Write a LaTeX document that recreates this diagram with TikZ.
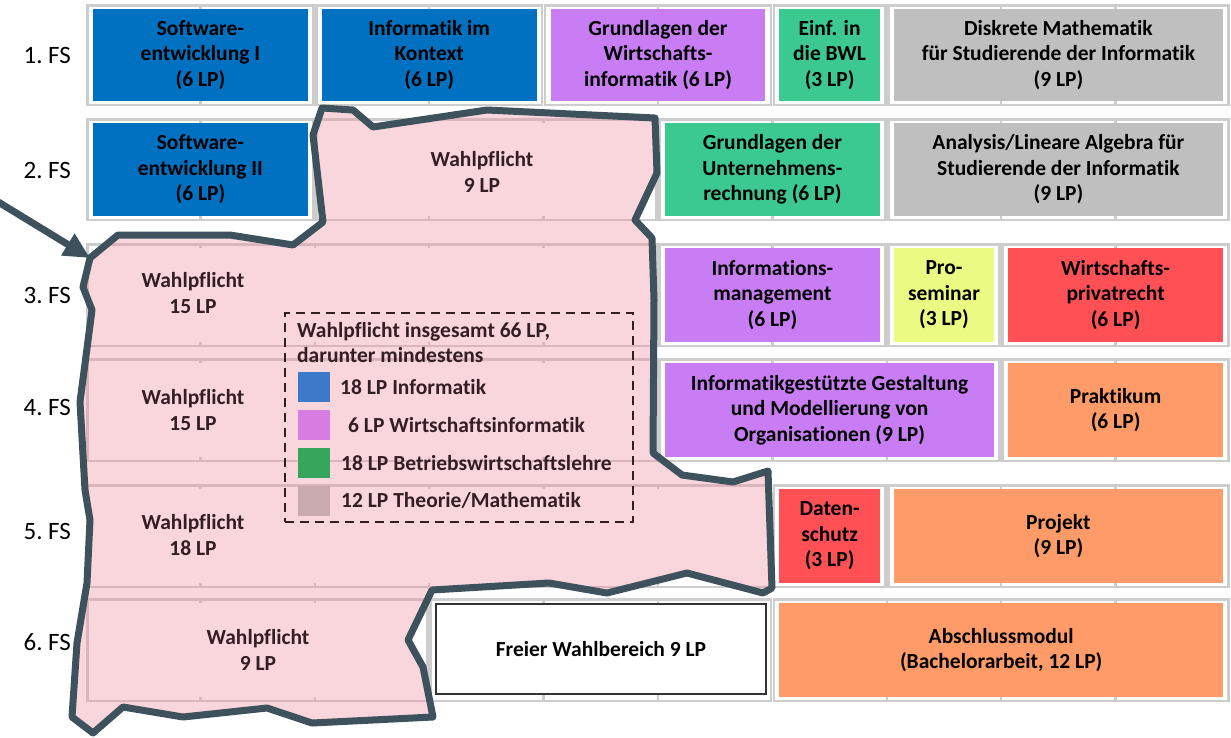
\documentclass[tikz,border=0pt]{standalone}
\usepackage{fontspec}
\setmainfont{Carlito}[Ligatures=NoCommon]
\usetikzlibrary{arrows.meta}
\definecolor{blueM}{RGB}{0,112,192}
\definecolor{purpleM}{RGB}{201,125,245}
\definecolor{greenM}{RGB}{60,200,145}
\definecolor{grayM}{RGB}{191,191,191}
\definecolor{yellowM}{RGB}{234,250,130}
\definecolor{redM}{RGB}{255,80,85}
\definecolor{orangeM}{RGB}{255,155,105}
\definecolor{pinkF}{RGB}{248,214,220}
\definecolor{borderC}{RGB}{61,82,92}
\definecolor{gridC}{RGB}{205,205,205}
\definecolor{gridP}{RGB}{218,182,188}
\definecolor{textP}{RGB}{52,30,36}
\definecolor{lblue}{RGB}{62,120,200}
\definecolor{lpurple}{RGB}{215,125,225}
\definecolor{lgreen}{RGB}{52,165,90}
\definecolor{lgray}{RGB}{200,170,175}
\newcommand\modfont{\bfseries\fontsize{21.5}{25.5}\selectfont}
\tikzset{
  modbox/.style={draw=none, inner sep=0pt, align=center, font=\modfont, text=black},
  gridline/.style={draw=gridC, line width=2.5pt},
  wpcover/.style={fill=pinkF, draw=none},
  wpborder/.style={draw=borderC, line width=7pt, line join=round},
  wplabel/.style={align=center, font=\modfont, text=textP, inner sep=0pt},
  legendbox/.style={draw=textP, line width=2.3pt, dash pattern=on 9pt off 6pt, minimum width=348pt, minimum height=209pt, inner sep=0pt},
  legtext/.style={font=\modfont, text=textP, inner sep=0pt, align=left},
  legsq/.style={minimum width=32pt, minimum height=30pt, inner sep=0pt, draw=none},
  fslabel/.style={font=\fontsize{25}{30}\selectfont, text=black, inner sep=0pt},
  freebox/.style={draw=black!80, line width=1.2pt, fill=white, inner sep=0pt, align=center, font=\modfont}
}
% #1 name, #2 x1, #3 x2, #4 top, #5 bottom, #6 colour, #7 text
\newcommand\modbox[7]{\node[modbox, fill=#6, minimum width={#3-#2-14}, minimum height={#5-#4-10}] (#1) at ({(#2+#3)/2},{(#4+#5)/2}) {#7};}
% grid span: x1 x2 top bottom
\newcommand\gspan[4]{\draw[gridline] (#1+1.5,#3+1.25) rectangle (#2-1.5,#4-1.25);}
\newcommand\gdiv[3]{\foreach \d in {#1} {\draw[gridline] (\d,#2) -- (\d,#3);}}
\newcommand\wpcell[4]{\fill[wpcover] (#1+7,#3+5) rectangle (#2-7,#4-5);}
\newcommand\fs[1]{#1.\hspace{0.22em}FS}
\newcommand\allgrid{%
  % row 1
  \gspan{86}{314.8}{4}{106}\gdiv{200.4}{4}{106}
  \gspan{314.8}{543.6}{4}{106}\gdiv{429.2}{4}{106}
  \gspan{543.6}{772.4}{4}{106}\gdiv{658}{4}{106}
  \gspan{772.4}{886.8}{4}{106}
  \gspan{886.8}{1230}{4}{106}\gdiv{1001.2,1115.6}{4}{106}
  % row 2
  \gspan{86}{314.8}{118}{221}\gdiv{200.4}{118}{221}
  \gspan{314.8}{658}{118}{221}\gdiv{429.2,543.6}{118}{221}
  \gspan{658}{886.8}{118}{221}\gdiv{772.4}{118}{221}
  \gspan{886.8}{1230}{118}{221}\gdiv{1001.2,1115.6}{118}{221}
  % row 3
  \gspan{86}{658}{243}{347}\gdiv{200.4,314.8,429.2,543.6}{243}{347}
  \gspan{658}{886.8}{243}{347}\gdiv{772.4}{243}{347}
  \gspan{886.8}{1001.2}{243}{347}
  \gspan{1001.2}{1230}{243}{347}\gdiv{1115.6}{243}{347}
  % row 4
  \gspan{86}{658}{358}{462}\gdiv{200.4,314.8,429.2,543.6}{358}{462}
  \gspan{658}{1001.2}{358}{462}\gdiv{772.4,886.8}{358}{462}
  \gspan{1001.2}{1230}{358}{462}\gdiv{1115.6}{358}{462}
  % row 5
  \gspan{86}{772.4}{484}{588}\gdiv{200.4,314.8,429.2,543.6,658}{484}{588}
  \gspan{772.4}{886.8}{484}{588}
  \gspan{886.8}{1230}{484}{588}\gdiv{1001.2,1115.6}{484}{588}
  % row 6
  \gspan{86}{429.2}{598}{702}\gdiv{200.4,314.8}{598}{702}
  \gspan{429.2}{772.4}{598}{702}\gdiv{543.6,658}{598}{702}
  \gspan{772.4}{1230}{598}{702}\gdiv{886.8,1001.2,1115.6}{598}{702}
}
\newcommand\wppath{(322,108) -- (353,110) -- (373,127) -- (487,110) -- (655,118) -- (657,173) -- (635,220) -- (652,238) -- (654,300) -- (653,453) -- (682,475) -- (733,482) -- (768,471) -- (772,588) -- (763,593) -- (687,573) -- (607,593) -- (549,583) -- (432,590) -- (408,640) -- (423,667) -- (433,717) -- (312,723) -- (267,708) -- (183,717) -- (123,707) -- (93,733) -- (72,717) -- (77,643) -- (87,583) -- (90,520) -- (85,490) -- (80,402) -- (92,310) -- (83,287) -- (90,258) -- (118,235) -- (230,235) -- (293,245) -- (323,222) -- (313,135) -- cycle}
\begin{document}
\begin{tikzpicture}[x=1pt,y=-1pt]
\useasboundingbox (0,0) rectangle (1231,737);
\fill[white] (0,0) rectangle (1231,737);
\allgrid
% modules row 1
\modbox{se1}{86}{314.8}{4}{106}{blueM}{Software-\\entwicklung I\\(6 LP)}
\modbox{iik}{314.8}{543.6}{4}{106}{blueM}{Informatik im\\Kontext\\(6 LP)}
\modbox{gwi}{543.6}{772.4}{4}{106}{purpleM}{Grundlagen der\\Wirtschafts-\\informatik (6 LP)}
\modbox{bwl}{772.4}{886.8}{4}{106}{greenM}{Einf. in\\die BWL\\(3 LP)}
\modbox{dm}{886.8}{1230}{4}{106}{grayM}{Diskrete Mathematik\\für Studierende der Informatik\\(9 LP)}
% row 2
\modbox{se2}{86}{314.8}{118}{221}{blueM}{Software-\\entwicklung II\\(6 LP)}
\modbox{gur}{658}{886.8}{118}{221}{greenM}{Grundlagen der\\Unternehmens-\\rechnung (6 LP)}
\modbox{ala}{886.8}{1230}{118}{221}{grayM}{Analysis/Lineare Algebra für\\Studierende der Informatik\\(9 LP)}
% row 3
\modbox{im}{658}{886.8}{243}{347}{purpleM}{Informations-\\management\\(6 LP)}
\modbox{ps}{886.8}{1001.2}{243}{347}{yellowM}{Pro-\\seminar\\(3 LP)}
\modbox{wpr}{1001.2}{1230}{243}{347}{redM}{Wirtschafts-\\privatrecht\\(6 LP)}
% row 4
\modbox{igm}{658}{1001.2}{358}{462}{purpleM}{Informatikgestützte Gestaltung\\und Modellierung von\\Organisationen (9 LP)}
\modbox{prak}{1001.2}{1230}{358}{462}{orangeM}{Praktikum\\(6 LP)}
% row 5
\modbox{ds}{772.4}{886.8}{484}{588}{redM}{Daten-\\schutz\\(3 LP)}
\modbox{proj}{886.8}{1230}{484}{588}{orangeM}{Projekt\\(9 LP)}
% row 6
\modbox{abs}{772.4}{1230}{598}{702}{orangeM}{Abschlussmodul\\(Bachelorarbeit, 12 LP)}
% Wahlpflicht area
\fill[pinkF] \wppath;
\begin{scope}[gridline/.style={draw=gridP, line width=2.5pt}]
  \clip \wppath;
  \allgrid
  \wpcell{314.8}{658}{118}{221}
  \wpcell{86}{658}{243}{347}
  \wpcell{86}{658}{358}{462}
  \wpcell{86}{772.4}{484}{588}
  \wpcell{86}{429.2}{598}{702}
\end{scope}
\node[freebox, minimum width=330pt, minimum height=90pt] (frei) at (601,649) {Freier Wahlbereich 9 LP};
\draw[wpborder] \wppath;
% Wahlpflicht labels
\node[wplabel] (wp2) at (482,172) {Wahlpflicht\\9 LP};
\node[wplabel] (wp3) at (193,293) {Wahlpflicht\\15 LP};
\node[wplabel] (wp4) at (193,410) {Wahlpflicht\\15 LP};
\node[wplabel] (wp5) at (193,535) {Wahlpflicht\\18 LP};
\node[wplabel] (wp6) at (258,650) {Wahlpflicht\\9 LP};
% legend
\node[legendbox] (legend) at (459,417.5) {};
\node[legtext, anchor=north west] (legtitle) at (297,322) {Wahlpflicht insgesamt 66 LP,\\darunter mindestens};
\node[legsq, fill=lblue] (sqa) at (314,387) {};
\node[legsq, fill=lpurple] (sqb) at (314,425) {};
\node[legsq, fill=lgreen] (sqc) at (314,463) {};
\node[legsq, fill=lgray] (sqd) at (314,500.5) {};
\node[legtext, anchor=west] (lta) at (340,387) {18 LP Informatik};
\node[legtext, anchor=west] (ltb) at (348,425) {6 LP Wirtschaftsinformatik};
\node[legtext, anchor=west] (ltc) at (341,463) {18 LP Betriebswirtschaftslehre};
\node[legtext, anchor=west] (ltd) at (341,500.5) {12 LP Theorie/Mathematik};
% semester labels
\node[fslabel, anchor=east] (fs1) at (71,55) {\fs{1}};
\node[fslabel, anchor=east] (fs2) at (71,170) {\fs{2}};
\node[fslabel, anchor=east] (fs3) at (71,295) {\fs{3}};
\node[fslabel, anchor=east] (fs4) at (71,407) {\fs{4}};
\node[fslabel, anchor=east] (fs5) at (71,531) {\fs{5}};
\node[fslabel, anchor=east] (fs6) at (71,642) {\fs{6}};
% arrow
\coordinate (arrstart) at (-5,200);
\coordinate (arrtip) at (90,258);
\draw[draw=borderC, line width=7pt, -{Triangle[length=26pt,width=24pt]}] (arrstart) -- (arrtip);
\end{tikzpicture}
\end{document}
